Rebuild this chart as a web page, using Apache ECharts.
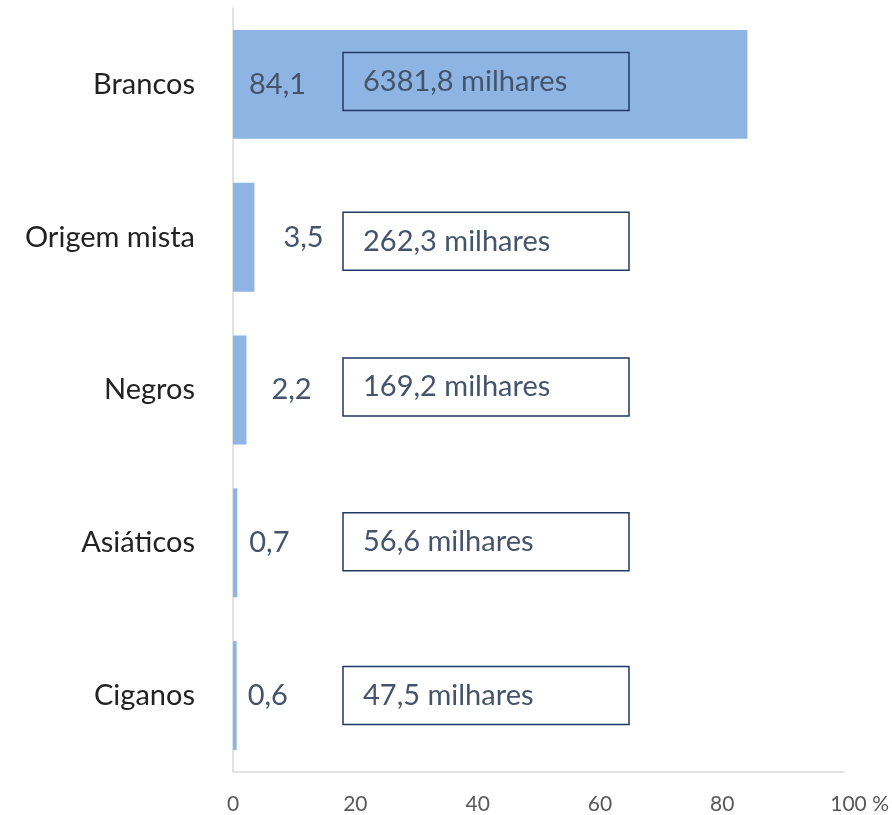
<!DOCTYPE html>
<html>
<head>
<meta charset="utf-8">
<script src="https://cdn.jsdelivr.net/npm/echarts@6/dist/echarts.min.js"></script>
<style>html,body{margin:0;padding:0;background:#fff}#c{width:892px;height:815px}</style>
</head>
<body>
<div id="c"></div>
<script>
var categories = ['Brancos', 'Origem mista', 'Negros', 'Asiáticos', 'Ciganos'];
var percentValues = [84.1, 3.5, 2.2, 0.7, 0.6];
var thousandsValues = [6381.8, 262.3, 169.2, 56.6, 47.5];
var xTicks = [0, 20, 40, 60, 80, 100];

// label placement (style only)
var pctLabelPlacement = [
  {position: 'insideLeft', distance: 16},
  {position: 'right', distance: 29},
  {position: 'right', distance: 25},
  {position: 'right', distance: 12},
  {position: 'right', distance: 11}
];
var boxOffsetY = [-3, 4, -3, -1, 0];

function fmt(v) { return String(v).replace('.', ','); }

var FONT = 'Lato, "Open Sans", sans-serif';
var chart = echarts.init(document.getElementById('c'));

var pctData = percentValues.map(function (v, i) {
  return {
    value: v,
    label: {position: pctLabelPlacement[i].position, distance: pctLabelPlacement[i].distance}
  };
});
var boxData = thousandsValues.map(function (v, i) {
  return {value: 0, label: {offset: [0, boxOffsetY[i]]}};
});

chart.setOption({
  animation: false,
  textStyle: {fontFamily: FONT},
  grid: {left: 233, right: 44, top: 8, bottom: 43, containLabel: false},
  xAxis: {
    type: 'value', min: 0, max: 100, interval: 20,
    splitLine: {show: false},
    axisLine: {show: false},
    axisTick: {show: false},
    axisLabel: {
      margin: 22,
      color: '#595959', fontSize: 21, fontFamily: FONT,
      formatter: function (v) {
        if (xTicks.indexOf(v) < 0) return '';
        return v === 100 ? '{p|100 %}' : String(v);
      },
      rich: {p: {fontSize: 21, color: '#595959', fontFamily: FONT, padding: [0, 0, 0, 30]}}
    }
  },
  yAxis: {
    type: 'category', data: categories, inverse: true,
    axisLine: {show: true, lineStyle: {color: '#D9D9D9', width: 1.5}},
    axisTick: {show: false},
    axisLabel: {margin: 38, color: '#222222', fontSize: 29, fontFamily: FONT}
  },
  series: [
    {
      type: 'bar', data: pctData, barCategoryGap: '28.7%',
      itemStyle: {color: '#8EB4E3'},
      label: {
        show: true, color: '#44546A', fontSize: 29, fontFamily: FONT,
        formatter: function (p) { return fmt(p.value); }
      },
      markLine: {
        silent: true, symbol: 'none', label: {show: false},
        lineStyle: {color: '#D9D9D9', type: 'solid', width: 1.5},
        data: [[{coord: [0, 'Ciganos'], y: 772}, {coord: [100, 'Ciganos'], y: 772}]]
      }
    },
    {
      type: 'bar', data: boxData, barGap: '-100%',
      itemStyle: {color: 'transparent'},
      label: {
        show: true, position: 'right', distance: 110,
        color: '#44546A', fontSize: 29, fontFamily: FONT,
        borderColor: '#203864', borderWidth: 1.5,
        padding: [12, 20, 12, 20], width: 246, height: 34, lineHeight: 34,
        formatter: function (p) { return fmt(thousandsValues[p.dataIndex]) + ' milhares'; }
      }
    }
  ]
});
</script>
</body>
</html>
